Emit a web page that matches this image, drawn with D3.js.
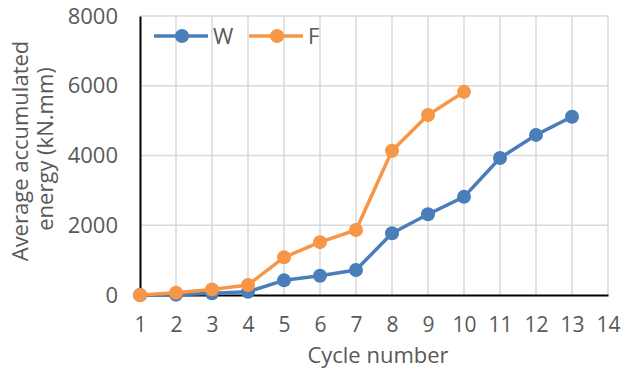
<!DOCTYPE html>
<html><head><meta charset="utf-8">
<script src="https://cdn.jsdelivr.net/npm/d3@7"></script>
<style>body{margin:0;background:#fff}svg{display:block}text{font-family:"Open Sans",sans-serif;fill:#595959}</style>
</head><body>
<script>
const cycles = [1,2,3,4,5,6,7,8,9,10,11,12,13,14];
const wCycles = [1,2,3,4,5,6,7,8,9,10,11,12,13];
const wValues = [0,10,50,95,420,550,717,1770,2315,2815,3930,4590,5110];
const fCycles = [1,2,3,4,5,6,7,8,9,10];
const fValues = [0,65,160,287,1080,1515,1864,4135,5161,5825];
const yTicks = [0,2000,4000,6000,8000];
const seriesNames = ["W","F"];
const colors = ["#4a7ebb","#f79646"];

const W = 622, H = 374;
const svg = d3.select("body").append("svg").attr("width",W).attr("height",H);
const x = d3.scaleLinear().domain([1,14]).range([140,608]);
const y = d3.scaleLinear().domain([0,8000]).range([295,16]);

// gridlines
svg.append("g").selectAll("line").data(cycles.slice(1)).join("line")
  .attr("x1",d=>x(d)).attr("x2",d=>x(d)).attr("y1",y(8000)).attr("y2",y(0))
  .attr("stroke","#d9d9d9").attr("stroke-width",1.5);
svg.append("g").selectAll("line").data(yTicks.slice(1)).join("line")
  .attr("x1",x(1)).attr("x2",x(14)).attr("y1",d=>y(d)).attr("y2",d=>y(d))
  .attr("stroke","#d9d9d9").attr("stroke-width",1.5);

// axes
const xAxis = svg.append("g").attr("transform",`translate(0,${y(0)})`)
  .call(d3.axisBottom(x).tickValues(cycles).tickSize(0).tickPadding(22).tickFormat(d3.format("d")));
xAxis.select(".domain").attr("stroke","#000").attr("stroke-width",2);
xAxis.selectAll("text").attr("font-size",21).attr("fill","#595959");
const yAxis = svg.append("g").attr("transform",`translate(${x(1)},0)`)
  .call(d3.axisLeft(y).tickValues(yTicks).tickSize(0).tickPadding(22).tickFormat(d3.format("d")));
yAxis.select(".domain").attr("stroke","#000").attr("stroke-width",2);
yAxis.selectAll("text").attr("font-size",22).attr("fill","#595959");

// series
const series = [
  {name:seriesNames[0], pts:wCycles.map((c,i)=>[c,wValues[i]]), color:colors[0]},
  {name:seriesNames[1], pts:fCycles.map((c,i)=>[c,fValues[i]]), color:colors[1]}
];
const line = d3.line().x(d=>x(d[0])).y(d=>y(d[1]));
series.forEach(s=>{
  svg.append("path").datum(s.pts).attr("d",line).attr("fill","none")
    .attr("stroke",s.color).attr("stroke-width",3.5).attr("stroke-linejoin","round");
  svg.append("g").selectAll("circle").data(s.pts).join("circle")
    .attr("cx",d=>x(d[0])).attr("cy",d=>y(d[1])).attr("r",7).attr("fill",s.color);
});

// legend
const legX = [154,249];
series.forEach((s,i)=>{
  const g = svg.append("g").attr("transform",`translate(${legX[i]},36)`);
  g.append("line").attr("x1",0).attr("x2",54).attr("stroke",s.color).attr("stroke-width",3.5);
  g.append("circle").attr("cx",28).attr("r",7).attr("fill",s.color);
  g.append("text").attr("x",59).attr("y",8).attr("font-size",22).text(s.name);
});

// titles
svg.append("text").attr("x",378).attr("y",363).attr("text-anchor","middle").attr("font-size",22).text("Cycle number");
svg.append("text").attr("transform","translate(28,151) rotate(-90)").attr("text-anchor","middle").attr("font-size",22).text("Average accumulated");
svg.append("text").attr("transform","translate(53,149) rotate(-90)").attr("text-anchor","middle").attr("font-size",22).text("energy (kN.mm)");
</script>
</body></html>
